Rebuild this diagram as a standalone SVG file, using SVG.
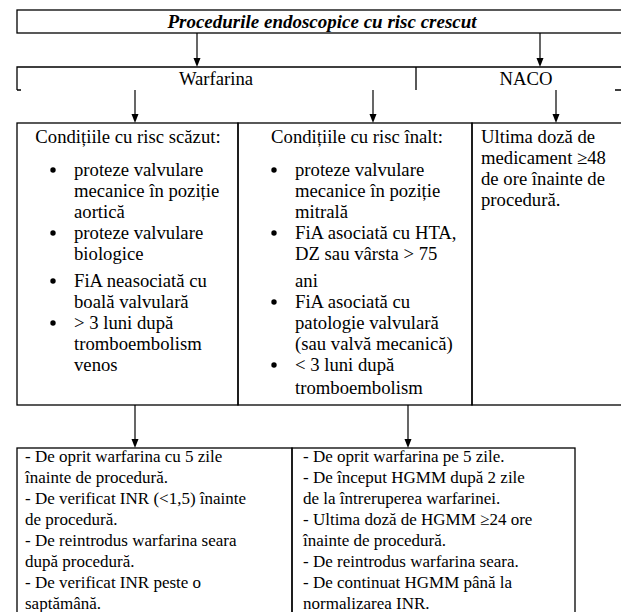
<svg xmlns="http://www.w3.org/2000/svg" width="621" height="612" viewBox="0 0 621 612">
<defs>
<style>
.b{fill:none;stroke:#000;stroke-width:1.3}
.t{font-family:"Liberation Serif","Times New Roman",serif;font-size:18.7px;fill:#000}
.s{font-family:"Liberation Serif","Times New Roman",serif;font-size:17px;fill:#000}
.c{text-anchor:middle}
.ti{font-weight:bold;font-style:italic;font-size:19px}
.a{stroke:#000;stroke-width:1.2;fill:none}
.d{fill:#000}
</style>
</defs>
<g id="top">
<rect class="b" x="17" y="10" width="620" height="23"/>
<text class="t c ti" x="322" y="28">Procedurile endoscopice cu risc crescut</text>
</g>
<g id="drugs">
<path class="b" d="M17,90 V67 H637 M17,90 H21 M416,67 V90 M615,90 H621"/>
<text class="t c" x="216" y="85">Warfarina</text>
<text class="t c" x="526" y="85">NACO</text>
</g>
<g id="low">
<rect class="b" x="17" y="123" width="221" height="282"/>
<text class="t c" x="128" y="143">Condițiile cu risc scăzut:</text>
<circle class="d" cx="53" cy="170" r="2.7"/>
<text class="t" x="74" y="176">proteze valvulare</text>
<text class="t" x="74" y="197">mecanice în poziție</text>
<text class="t" x="74" y="218">aortică</text>
<circle class="d" cx="53" cy="233" r="2.7"/>
<text class="t" x="74" y="239">proteze valvulare</text>
<text class="t" x="74" y="260">biologice</text>
<circle class="d" cx="53" cy="281" r="2.7"/>
<text class="t" x="74" y="287">FiA neasociată cu</text>
<text class="t" x="74" y="308">boală valvulară</text>
<circle class="d" cx="53" cy="323" r="2.7"/>
<text class="t" x="74" y="329">&gt; 3 luni după</text>
<text class="t" x="74" y="350">tromboembolism</text>
<text class="t" x="74" y="371">venos</text>
</g>
<g id="high">
<rect class="b" x="238" y="123" width="234" height="282"/>
<text class="t c" x="357" y="143">Condițiile cu risc înalt:</text>
<circle class="d" cx="274" cy="170" r="2.7"/>
<text class="t" x="295" y="176">proteze valvulare</text>
<text class="t" x="295" y="197">mecanice în poziție</text>
<text class="t" x="295" y="218">mitrală</text>
<circle class="d" cx="274" cy="233" r="2.7"/>
<text class="t" x="295" y="239">FiA asociată cu HTA,</text>
<text class="t" x="295" y="260">DZ sau vârsta &gt; 75</text>
<text class="t" x="295" y="287">ani</text>
<circle class="d" cx="274" cy="302" r="2.7"/>
<text class="t" x="295" y="308">FiA asociată cu</text>
<text class="t" x="295" y="329">patologie valvulară</text>
<text class="t" x="295" y="350">(sau valvă mecanică)</text>
<circle class="d" cx="274" cy="365" r="2.7"/>
<text class="t" x="295" y="371">&lt; 3 luni după</text>
<text class="t" x="295" y="394">tromboembolism</text>
</g>
<g id="naco">
<rect class="b" x="472" y="123" width="165" height="282"/>
<text class="t" x="481" y="143">Ultima doză de</text>
<text class="t" x="481" y="164">medicament ≥48</text>
<text class="t" x="481" y="185">de ore înainte de</text>
<text class="t" x="481" y="206">procedură.</text>
</g>
<g id="lowplan">
<rect class="b" x="17" y="448" width="275" height="200"/>
<text class="s" x="25" y="462">- De oprit warfarina cu 5 zile</text>
<text class="s" x="25" y="483">înainte de procedură.</text>
<text class="s" x="25" y="504">- De verificat INR (&lt;1,5) înainte</text>
<text class="s" x="25" y="525">de procedură.</text>
<text class="s" x="25" y="546">- De reintrodus warfarina seara</text>
<text class="s" x="25" y="567">după procedură.</text>
<text class="s" x="25" y="588">- De verificat INR peste o</text>
<text class="s" x="25" y="609">saptămână.</text>
</g>
<g id="highplan">
<rect class="b" x="292" y="448" width="283" height="200"/>
<text class="s" x="303" y="462">- De oprit warfarina pe 5 zile.</text>
<text class="s" x="303" y="483">- De început HGMM după 2 zile</text>
<text class="s" x="303" y="504">de la întreruperea warfarinei.</text>
<text class="s" x="303" y="525">- Ultima doză de HGMM  ≥24 ore</text>
<text class="s" x="303" y="546">înainte de procedură.</text>
<text class="s" x="303" y="567">- De reintrodus warfarina seara.</text>
<text class="s" x="303" y="588">- De continuat HGMM până la</text>
<text class="s" x="303" y="609">normalizarea INR.</text>
</g>
<g id="connectors">
<path class="a" d="M197,33 V59"/><path class="d" d="M193.5,58 H200.5 L197,67 Z"/>
<path class="a" d="M540,33 V59"/><path class="d" d="M536.5,58 H543.5 L540,67 Z"/>
<path class="a" d="M135,90 V115"/><path class="d" d="M131.5,114 H138.5 L135,123 Z"/>
<path class="a" d="M373,90 V115"/><path class="d" d="M369.5,114 H376.5 L373,123 Z"/>
<path class="a" d="M556,90 V115"/><path class="d" d="M552.5,114 H559.5 L556,123 Z"/>
<path class="a" d="M135,405 V440"/><path class="d" d="M131.5,439 H138.5 L135,448 Z"/>
<path class="a" d="M408,405 V440"/><path class="d" d="M404.5,439 H411.5 L408,448 Z"/>
</g>
</svg>
